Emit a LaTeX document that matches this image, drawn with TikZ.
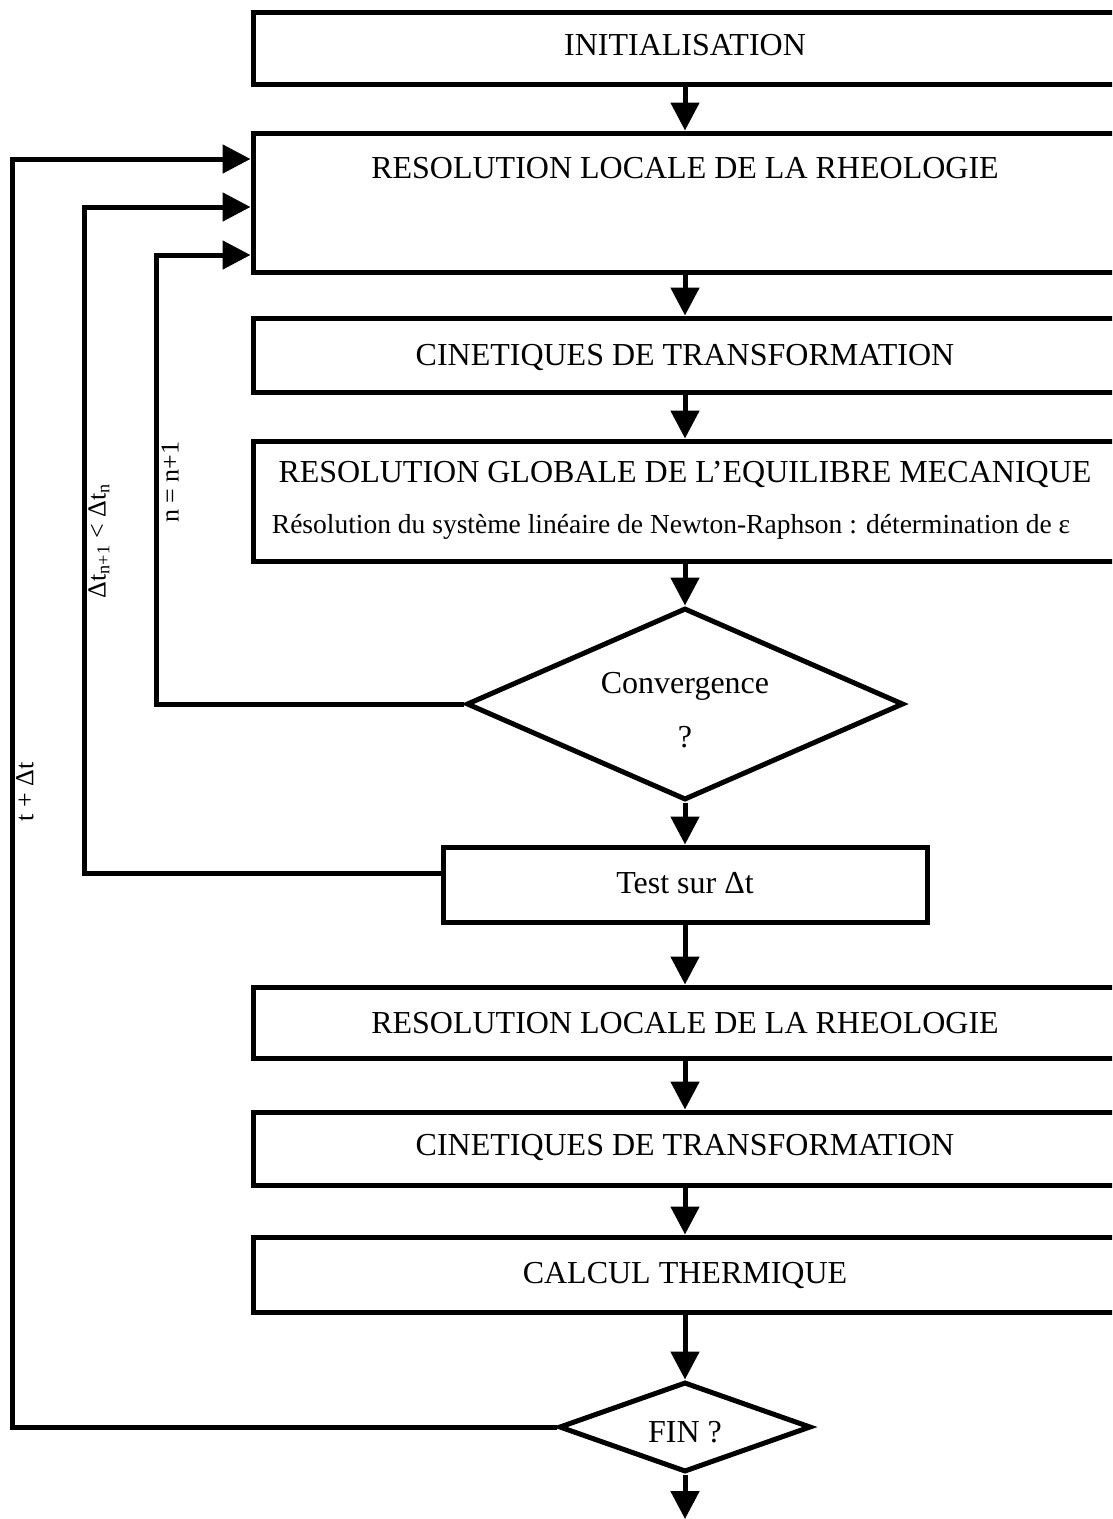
\documentclass[tikz,border=0pt]{standalone}
\usepackage{fontspec}
\setmainfont{Liberation Serif}
\usetikzlibrary{shapes.geometric,arrows.meta}
\begin{document}
\begin{tikzpicture}[x=1pt,y=-1pt,
  box/.style={draw, line width=5pt, rectangle, inner sep=0pt},
  dia/.style={draw, line width=5pt, diamond, inner sep=0pt},
  txt/.style={font=\fontsize{32}{36}\selectfont, anchor=base, inner sep=0pt},
  subtxt/.style={font=\fontsize{27.5}{31}\selectfont, anchor=base, inner sep=0pt},
  lab/.style={font=\fontsize{26}{30}\selectfont, rotate=90, inner sep=0pt},
  arr/.style={line width=5pt, -{Triangle[length=28pt,width=28pt]}}]
\useasboundingbox (0,0) rectangle (1112,1519);
\clip (0,0) rectangle (1112,1519);

% boxes
\node[box, minimum width=864pt, minimum height=72pt]  (init)  at (685,48)    {};
\node[box, minimum width=864pt, minimum height=139pt] (rheo1) at (685,202.5) {};
\node[box, minimum width=864pt, minimum height=74pt]  (cin1)  at (685,355)   {};
\node[box, minimum width=864pt, minimum height=120pt] (glob)  at (685,501)   {};
\node[dia, minimum width=437pt, minimum height=192pt] (conv)  at (685,704)   {};
\node[box, minimum width=484pt, minimum height=75pt]  (test)  at (685,884.5) {};
\node[box, minimum width=864pt, minimum height=71pt]  (rheo2) at (685,1022.5){};
\node[box, minimum width=864pt, minimum height=73pt]  (cin2)  at (685,1148.5){};
\node[box, minimum width=864pt, minimum height=75pt]  (calc)  at (685,1274.5){};
\node[dia, minimum width=252pt, minimum height=90pt]  (fin)   at (685,1427)  {};
\coordinate (endc) at (685,1519);

% texts
\node[txt] (initT)  at (685,55)   {INITIALISATION};
\node[txt] (rheo1T) at (685,178)  {RESOLUTION LOCALE DE LA RHEOLOGIE};
\node[txt] (cin1T)  at (685,365)  {CINETIQUES DE TRANSFORMATION};
\node[txt] (globT)  at (685,482)  {RESOLUTION GLOBALE DE L’EQUILIBRE MECANIQUE};
\node[subtxt] (globS) at (671,533) {Résolution du système linéaire de Newton-Raphson : détermination de ε};
\node[txt] (convT)  at (685,693)  {Convergence};
\node[txt] (convQ)  at (685,747)  {?};
\node[txt] (testT)  at (685,893)  {Test sur Δt};
\node[txt] (rheo2T) at (685,1033) {RESOLUTION LOCALE DE LA RHEOLOGIE};
\node[txt] (cin2T)  at (685,1155) {CINETIQUES DE TRANSFORMATION};
\node[txt] (calcT)  at (685,1283) {CALCUL THERMIQUE};
\node[txt] (finT)   at (685,1442) {FIN ?};

% main flow
\draw[arr] (init) -- (rheo1);
\draw[arr] (rheo1) -- (cin1);
\draw[arr] (cin1) -- (glob);
\draw[arr] (glob) -- (conv);
\draw[arr] (conv) -- (test);
\draw[arr] (test) -- (rheo2);
\draw[arr] (rheo2) -- (cin2);
\draw[arr] (cin2) -- (calc);
\draw[arr] (calc) -- (fin);
\draw[arr] (fin) -- (endc);

% feedback loops
\draw[arr] (conv.west) -| (156,255) -- (rheo1.west |- 156,255);
\draw[arr] (test.west |- 84,873) -| (84,207) -- (rheo1.west |- 84,207);
\draw[arr] (fin.west) -| (12,159) -- (rheo1.west |- 12,159);

% loop labels
\node[lab] (lbl1) at (170,482) {n = n+1};
\node[lab] (lbl2) at (99,541) {Δt\textsubscript{n+1} < Δt\textsubscript{n}};
\node[lab] (lbl3) at (25,792) {t + Δt};
\end{tikzpicture}
\end{document}
